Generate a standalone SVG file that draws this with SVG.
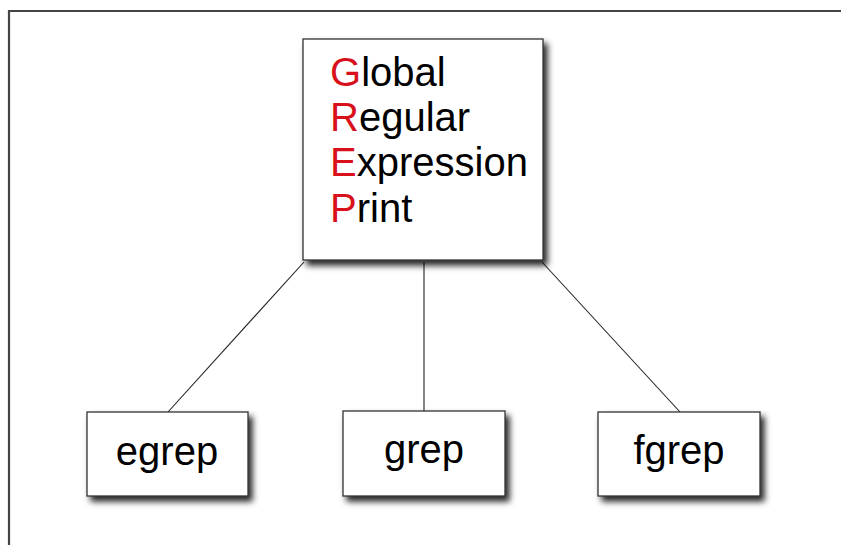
<svg xmlns="http://www.w3.org/2000/svg" width="841" height="545" viewBox="0 0 841 545">
  <defs>
    <filter id="shadow" x="-10%" y="-10%" width="130%" height="130%">
      <feDropShadow dx="4" dy="5" stdDeviation="3" flood-color="#000" flood-opacity="0.85"/>
    </filter>
  </defs>
  <style>
    .box { fill: #fff; stroke: #333; stroke-width: 1.3; filter: url(#shadow); }
    .frame { fill: none; stroke: #444; stroke-width: 2.2; }
    .edge { stroke: #222; stroke-width: 1.1; fill: none; }
    .label { font-family: "Liberation Sans", Arial, Helvetica, sans-serif; font-size: 40px; fill: #000; }
    .cap { fill: #d8101c; }
    .mid { text-anchor: middle; }
  </style>

  <rect width="841" height="545" fill="#fff"/>
  <!-- page frame: top and left edges -->
  <path class="frame" d="M9,545 V11 H841"/>

  <!-- links from the root to the three variants -->
  <g id="connectors">
    <line class="edge" x1="304" y1="262" x2="168" y2="412"/>
    <line class="edge" x1="424" y1="262" x2="424" y2="411"/>
    <line class="edge" x1="542" y1="262" x2="680" y2="412"/>
  </g>

  <g id="grep-root">
    <rect class="box" x="303" y="39" width="240" height="221"/>
    <text class="label" x="330" y="86"><tspan class="cap">G</tspan>lobal</text>
    <text class="label" x="330" y="131"><tspan class="cap">R</tspan>egular</text>
    <text class="label" x="330" y="176"><tspan class="cap">E</tspan>xpression</text>
    <text class="label" x="330" y="222"><tspan class="cap">P</tspan>rint</text>
  </g>

  <g id="egrep">
    <rect class="box" x="87" y="412" width="161" height="84"/>
    <text class="label mid" x="167" y="465">egrep</text>
  </g>

  <g id="grep">
    <rect class="box" x="343" y="411" width="162" height="85"/>
    <text class="label mid" x="424" y="463">grep</text>
  </g>

  <g id="fgrep">
    <rect class="box" x="598" y="412" width="162" height="84"/>
    <text class="label mid" x="679" y="464">fgrep</text>
  </g>
</svg>
